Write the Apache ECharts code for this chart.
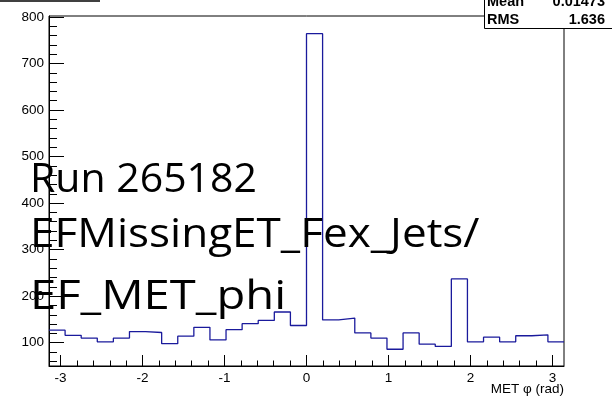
<!DOCTYPE html>
<html>
<head>
<meta charset="utf-8">
<script src="https://cdn.jsdelivr.net/npm/echarts@6/dist/echarts.min.js"></script>
<style>
  html, body { margin: 0; padding: 0; background: #fff; }
  #chart { width: 612px; height: 396px; }
</style>
</head>
<body>
<div id="chart"></div>
<script>
// MET phi histogram, 32 bins from -pi to pi
const binCounts = [127, 116, 110, 102, 110, 124, 122, 98, 114, 133, 106, 128, 141, 148, 166, 137,
                   764, 149, 153, 121, 110, 86, 121, 97, 92, 237, 102, 112, 102, 115, 117, 102];
const xMajor = [-3, -2, -1, 0, 1, 2, 3];
const xMinor = [-3, -2.8, -2.6, -2.4, -2.2, -2, -1.8, -1.6, -1.4, -1.2, -1, -0.8, -0.6, -0.4, -0.2, 0,
                0.2, 0.4, 0.6, 0.8, 1, 1.2, 1.4, 1.6, 1.8, 2, 2.2, 2.4, 2.6, 2.8, 3];
const yMajor = [100, 200, 300, 400, 500, 600, 700, 800];
const yMinor = [60, 80, 100, 120, 140, 160, 180, 200, 220, 240, 260, 280, 300, 320, 340, 360, 380, 400,
                420, 440, 460, 480, 500, 520, 540, 560, 580, 600, 620, 640, 660, 680, 700, 720, 740, 760, 780, 800];
const overlayLines = ["Run 265182", "EFMissingET_Fex_Jets/", "EF_MET_phi"];
const statsRows = [["Mean", "0.01473"], ["RMS", "1.636"]];

const xMin = -Math.PI, xMax = Math.PI;
const binW = (xMax - xMin) / binCounts.length;

// step outline: each bin starts at its low edge
const histPoints = binCounts.map((v, i) => [xMin + i * binW, v]);
histPoints.push([xMax, binCounts[binCounts.length - 1]]);

const tickFont = { color: '#000', fontSize: 13.5, fontFamily: 'Liberation Sans' };
const black = { color: '#000', width: 1 };

const chart = echarts.init(document.getElementById('chart'));
chart.setOption({
  animation: false,
  grid: {
    left: 49, right: 48, top: 16, bottom: 30,
    show: true, borderColor: '#000', borderWidth: 1
  },
  xAxis: [
    {
      type: 'value', min: xMin, max: xMax, position: 'bottom',
      axisLine: { show: true, onZero: false, lineStyle: black },
      axisTick: { show: true, inside: true, length: 11, customValues: xMajor, lineStyle: black },
      axisLabel: Object.assign({ customValues: xMajor, margin: 5 }, tickFont),
      splitLine: { show: false }
    },
    {
      type: 'value', min: xMin, max: xMax, position: 'bottom',
      axisLine: { show: false },
      axisTick: { show: true, inside: true, length: 5.5, customValues: xMinor, lineStyle: black },
      axisLabel: { show: false },
      splitLine: { show: false }
    }
  ],
  yAxis: [
    {
      type: 'value', min: 50, max: 802, position: 'left',
      axisLine: { show: true, onZero: false, lineStyle: black },
      axisTick: { show: true, inside: true, length: 15, customValues: yMajor, lineStyle: black },
      axisLabel: Object.assign({ customValues: yMajor, margin: 5 }, tickFont),
      splitLine: { show: false }
    },
    {
      type: 'value', min: 50, max: 802, position: 'left',
      axisLine: { show: false, onZero: false },
      axisTick: { show: true, inside: true, length: 8, customValues: yMinor, lineStyle: black },
      axisLabel: { show: false },
      splitLine: { show: false }
    }
  ],
  series: [
    {
      type: 'line',
      step: 'end',
      xAxisIndex: 0,
      yAxisIndex: 0,
      symbol: 'none',
      data: histPoints,
      lineStyle: { color: '#1a1a9c', width: 1.3 }
    }
  ],
  graphic: [
    // bottom edge of the cut-off title box
    { type: 'line', shape: { x1: 0, y1: 1, x2: 100, y2: 1 }, style: { stroke: '#000', lineWidth: 1.5 } },
    // stats box
    { type: 'rect', shape: { x: 484.5, y: -12, width: 140, height: 40.5 },
      style: { fill: '#fff', stroke: '#000', lineWidth: 1 }, z: 100 },
    { type: 'text', x: 487, y: 2, z: 101,
      style: { text: statsRows[0][0], font: 'bold 14.5px "Liberation Sans"', fill: '#000', verticalAlign: 'middle' } },
    { type: 'text', x: 605, y: 2, z: 101,
      style: { text: statsRows[0][1], font: 'bold 14.5px "Liberation Sans"', fill: '#000', align: 'right', verticalAlign: 'middle' } },
    { type: 'text', x: 487, y: 20, z: 101,
      style: { text: statsRows[1][0], font: 'bold 14.5px "Liberation Sans"', fill: '#000', verticalAlign: 'middle' } },
    { type: 'text', x: 605, y: 20, z: 101,
      style: { text: statsRows[1][1], font: 'bold 14.5px "Liberation Sans"', fill: '#000', align: 'right', verticalAlign: 'middle' } },
    // x axis title
    { type: 'text', x: 564, y: 389, z: 101,
      style: { text: 'MET \u03c6 (rad)', font: '13.5px "Liberation Sans"', fill: '#000', align: 'right', verticalAlign: 'middle' } },
    // overlaid slide text
    { type: 'text', x: 30, y: 180.5, z: 110,
      style: { text: overlayLines[0], font: '41px "Open Sans"', fill: '#000', verticalAlign: 'middle' } },
    { type: 'text', x: 30, y: 235.8, z: 110, scaleX: 1.075,
      style: { text: overlayLines[1], font: '41px "Open Sans"', fill: '#000', verticalAlign: 'middle' } },
    { type: 'text', x: 30, y: 297.5, z: 110, scaleX: 1.15,
      style: { text: overlayLines[2], font: '41px "Open Sans"', fill: '#000', verticalAlign: 'middle' } }
  ]
});
</script>
</body>
</html>
